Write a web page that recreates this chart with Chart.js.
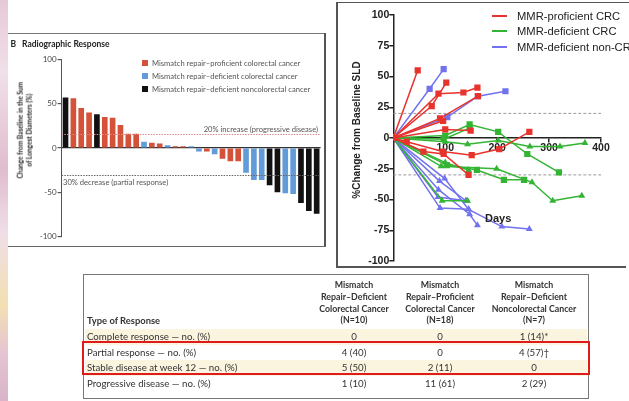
<!DOCTYPE html>
<html><head><meta charset="utf-8">
<script src="https://cdn.jsdelivr.net/npm/chart.js@4.4.1/dist/chart.umd.min.js"></script>
<style>
html,body{margin:0;padding:0;background:#fff;}
#page{position:relative;width:629px;height:401px;overflow:hidden;background:#fff;font-family:Lato,"Open Sans",sans-serif;color:#333;}
.a{position:absolute;white-space:nowrap;}
canvas{position:absolute;}
</style></head><body><div id="page">
<div class="a" style="left:0;top:0;width:8px;height:401px;background:linear-gradient(to bottom,#e6c9d7 0%,#f0e0e8 18%,#e0bccf 42%,#efdee7 58%,#f2e0b2 76%,#e6c4d3 88%,#d9b4c8 100%);"></div>
<canvas id="wf" width="317" height="213" style="left:8px;top:33px;width:317px;height:213px;"></canvas>
<canvas id="sp" width="292" height="270" style="left:337px;top:2px;width:292px;height:270px;"></canvas>
</div>
<script>
// ================= DATA =================
// Waterfall (Radiographic Response)
const wfValues = [57,56,45,40,38,35,34,26,16,16,7,6,5,3,2,2,2,-4,-4,-7,-12,-15,-15,-28,-36,-36,-42,-50,-51,-52,-62,-71,-74];
const wfGroups = ['n','p','p','p','n','p','p','p','p','p','d','p','p','d','p','p','d','d','p','d','p','p','p','d','d','d','n','n','d','d','n','n','n'];
const wfYTicks = [100,50,0,-50,-100];
const wfRefValues = [16,-31];
const wfRefLabels = ['20% increase (progressive disease)','30% decrease (partial response)'];
const wfLegendLabels = ['Mismatch repair–proficient colorectal cancer','Mismatch repair–deficient colorectal cancer','Mismatch repair–deficient noncolorectal cancer'];
const wfLegendGroups = ['p','d','n'];
const wfTitle = ['B','Radiographic Response'];
const wfYTitle = ['Change from Baseline in the Sum','of Longest Diameters (%)'];

// Spider plot (days, % change)
const spPmmrCrc = [
  [[0,0],[47,55]],
  [[0,0],[74,26],[102,45]],
  [[0,0],[87,36],[135,37],[162,41]],
  [[0,0],[90,16],[163,34]],
  [[0,0],[96,14]],
  [[0,0],[100,7],[149,6]],
  [[0,0],[26,-3],[95,-11],[151,-14],[204,-9],[262,5]],
  [[0,0],[58,-11],[97,-13],[145,-30]]
];
const spDmmrCrc = [
  [[0,0],[100,2],[147,11],[202,5],[258,-13],[319,-28]],
  [[0,0],[100,-3],[143,-5],[202,-2],[263,-7],[321,-7],[369,-4]],
  [[0,0],[97,-1],[147,8]],
  [[0,0],[103,-22],[161,-26],[213,-34],[252,-34]],
  [[0,0],[92,-23],[199,-25],[267,-36],[307,-51],[363,-47]],
  [[0,0],[94,-51],[143,-51]],
  [[0,0],[100,-20],[145,-26]]
];
const spDmmrNonCrc = [
  [[0,0],[70,40],[97,56]],
  [[0,0],[104,17],[163,34],[216,38]],
  [[0,0],[89,-35],[140,-51]],
  [[0,0],[99,-33],[145,-58],[209,-72],[262,-74]],
  [[0,0],[87,-42],[147,-62],[162,-71]],
  [[0,0],[86,-48],[140,-51]],
  [[0,0],[90,-57],[145,-58]]
];
const spYTicks = [100,75,50,25,0,-25,-50,-75,-100];
const spXTicks = [0,100,200,300,400];
const spRefValues = [20,-30];
const spLegendLabels = ['MMR-proficient CRC','MMR-deficient CRC','MMR-deficient non-CRC'];
const spYTitle = '%Change from Baseline SLD';
const spXTitle = 'Days';

// Table
const tblColHeaders = [
  ['Mismatch','Repair–Deficient','Colorectal Cancer','(N=10)'],
  ['Mismatch','Repair–Proficient','Colorectal Cancer','(N=18)'],
  ['Mismatch','Repair–Deficient','Noncolorectal Cancer','(N=7)']
];
const tblRowHeader = 'Type of Response';
const tblRowLabels = ['Complete response — no. (%)','Partial response — no. (%)','Stable disease at week 12 — no. (%)','Progressive disease — no. (%)'];
const tblCol1 = ['0','4 (40)','5 (50)','1 (10)'];
const tblCol2 = ['0','0','2 (11)','11 (61)'];
const tblCol3 = ['1 (14)*','4 (57)†','0','2 (29)'];

// ================= STYLES =================
const wfColors = {p:'#d4513a', d:'#619cd8', n:'#111111'};
const spColors = ['#e8322c','#33b533','#7272ee'];
const spPmmrMarkers = ['rect','rect','rect','rect','rect','rect','rect','rect'];
const spDmmrMarkers = ['rect','triangle','rect','rect','triangle','triangle','triangle'];
const spNonMarkers = ['rect','rect','triangle','triangle','triangle','triangle','triangle'];

const page = document.getElementById('page');
function el(html, css){ const d=document.createElement('div'); d.className='a'; d.innerHTML=html; Object.assign(d.style, css); page.appendChild(d); return d; }
function txt(s, x, cy, o){ o=o||{}; const lh=o.lh||10; const css={top:(cy-lh/2)+'px', lineHeight:lh+'px', fontSize:(o.size||8)+'px', fontWeight:o.bold?'700':'400', color:o.color||'#333'}; if(o.family) css.fontFamily=o.family;
  if(o.align==='right'){ css.right=(629-x)+'px'; css.textAlign='right'; } else if(o.align==='center'){ css.left=(x-100)+'px'; css.width='200px'; css.textAlign='center'; } else { css.left=x+'px'; }
  return el(s, css); }

// ================= WATERFALL =================
const wfRefPlugin = {
  id:'wfRef',
  afterDatasetsDraw(chart){
    const {ctx, chartArea:a, scales:{y}} = chart;
    const cols = ['#d98a8a','#666'];
    wfRefValues.forEach((v,i)=>{
      const py = Math.round(y.getPixelForValue(v))+0.5;
      ctx.save(); ctx.strokeStyle=cols[i]; ctx.lineWidth=1; ctx.setLineDash([1.5,1.2]);
      ctx.beginPath(); ctx.moveTo(a.left,py); ctx.lineTo(a.right,py); ctx.stroke(); ctx.restore();
    });
  }
};
new Chart(document.getElementById('wf'), {
  type:'bar',
  data:{ labels: wfValues.map((_,i)=>String(i+1)),
    datasets:[{ data: wfValues, backgroundColor: wfGroups.map(g=>wfColors[g]), borderWidth:0, barPercentage:0.72, categoryPercentage:1 }]},
  options:{
    responsive:false, animation:false, devicePixelRatio:1,
    layout:{padding:{left:0,right:4.4,top:26.3,bottom:9.3}},
    plugins:{legend:{display:false}, tooltip:{enabled:false}},
    scales:{
      x:{display:false},
      y:{min:-100,max:100,
        afterBuildTicks:s=>{ s.ticks = wfYTicks.map(v=>({value:v})); },
        ticks:{font:{family:'Lato',size:8}, color:'#444', padding:1, autoSkip:false},
        grid:{color:c=>c.tick && c.tick.value===0 ? '#333':'rgba(0,0,0,0)', lineWidth:1.2, tickColor:'#555', tickLength:4},
        border:{color:'#555', width:1},
        afterFit:s=>{ s.width=53.6; }
      }
    }
  },
  plugins:[wfRefPlugin]
});
// panel borders
el('',{left:'8px',top:'32.5px',width:'317px',height:'1.5px',background:'#777'});
el('',{left:'324px',top:'32.5px',width:'2px',height:'214px',background:'#555'});
el('',{left:'8px',top:'245.5px',width:'318px',height:'1.5px',background:'#666'});
// title
txt(wfTitle[0], 10.5, 44, {bold:true,size:8.5,color:'#222'});
txt(wfTitle[1], 22, 44, {bold:true,size:8.5,color:'#222'});
// legend
wfLegendGroups.forEach((g,i)=>{
  const cy = 63 + i*13;
  el('',{left:'141.5px',top:(cy-3)+'px',width:'6px',height:'6px',background:wfColors[g]});
  txt(wfLegendLabels[i], 152, cy, {size:7.6,color:'#555'});
});
// ref labels
txt(wfRefLabels[0], 318, 129, {size:7.6,color:'#555',align:'right'});
txt(wfRefLabels[1], 63, 181.7, {size:7.6,color:'#555'});
// y title (rotated)
el(wfYTitle.join('<br>'),{left:(25.4-60)+'px',top:(130-9.3)+'px',width:'120px',height:'18.6px',lineHeight:'9.3px',fontSize:'6.6px',fontWeight:'700',textAlign:'center',color:'#222',transform:'rotate(-90deg)'});

// ================= SPIDER =================
const spDatasets = [];
function addGroup(list, markers, color){
  list.forEach((pts,i)=>{
    spDatasets.push({ data: pts.map(p=>({x:p[0],y:p[1]})), showLine:true, borderColor:color, backgroundColor:color,
      borderWidth:1.5, pointStyle:markers[i], pointRadius: markers[i]==='rect'?4.4:4, pointBorderWidth:0, pointBackgroundColor:color, order:1 });
  });
}
addGroup(spPmmrCrc, spPmmrMarkers, spColors[0]);
addGroup(spDmmrCrc, spDmmrMarkers, spColors[1]);
addGroup(spDmmrNonCrc, spNonMarkers, spColors[2]);
spRefValues.forEach(v=>{
  spDatasets.push({ data:[{x:0,y:v},{x:400,y:v}], showLine:true, borderColor:'#9a9a9a', borderWidth:1, borderDash:[3,2], pointRadius:0, order:5 });
});
const spFont = {family:'"Liberation Sans", Arial, sans-serif', size:10.5, weight:'bold'};
new Chart(document.getElementById('sp'), {
  type:'scatter',
  data:{datasets: spDatasets},
  options:{
    responsive:false, animation:false, devicePixelRatio:1,
    layout:{padding:{left:0,right:28,top:13,bottom:11}},
    plugins:{legend:{display:false}, tooltip:{enabled:false}},
    scales:{
      x:{type:'linear', min:0, max:400, position:{y:0},
        afterBuildTicks:s=>{ s.ticks = spXTicks.map(v=>({value:v})); },
        ticks:{font:spFont, color:'#222', padding:0, autoSkip:false, maxRotation:0, callback:v=> v===0 ? '' : String(v)},
        grid:{drawOnChartArea:false, tickColor:'#222', tickLength:4, lineWidth:1.5},
        border:{color:'#222', width:1.5}
      },
      y:{min:-100, max:100,
        afterBuildTicks:s=>{ s.ticks = spYTicks.map(v=>({value:v})); },
        ticks:{font:spFont, color:'#222', padding:0, autoSkip:false},
        grid:{drawOnChartArea:false, tickColor:'#222', tickLength:4, lineWidth:1.5},
        border:{color:'#222', width:1.5},
        afterFit:s=>{ s.width=56.3; }
      }
    }
  }
});
// spider panel borders
el('',{left:'336px',top:'1.5px',width:'293px',height:'1.5px',background:'#555'});
el('',{left:'336px',top:'1.5px',width:'1.5px',height:'266px',background:'#555'});
el('',{left:'336px',top:'266px',width:'290px',height:'1.5px',background:'#555'});
// spider legend
spLegendLabels.forEach((s,i)=>{
  const cy = 15.7 + i*15.4;
  el('',{left:'492px',top:(cy-1)+'px',width:'15px',height:'2px',background:spColors[i]});
  txt(s, 517, cy, {size:11.2,color:'#222',family:'"Liberation Sans", Arial, sans-serif',lh:12});
});
txt(spXTitle, 485, 218, {size:11,bold:true,color:'#222',family:'"Liberation Sans", Arial, sans-serif',lh:12});
el(spYTitle,{left:(357-80)+'px',top:(130-6)+'px',width:'160px',height:'12px',lineHeight:'12px',fontSize:'10px',fontWeight:'700',textAlign:'center',color:'#222',fontFamily:'"Liberation Sans", Arial, sans-serif',transform:'rotate(-90deg)'});

// ================= TABLE =================
const colCenters = [354,440,534];
el('',{left:'84.5px',top:'328.5px',width:'502.5px',height:'16px',background:'#fbf4df'});
el('',{left:'84.5px',top:'359.5px',width:'502.5px',height:'16px',background:'#fbf4df'});
el('',{left:'83px',top:'274px',width:'505.5px',height:'124.5px',border:'1.5px solid #777',boxSizing:'border-box'});
tblColHeaders.forEach((lines,c)=>{
  el(lines.join('<br>'),{left:(colCenters[c]-60)+'px',top:(285-5.9)+'px',width:'120px',lineHeight:'11.8px',fontSize:'8.8px',fontWeight:'700',textAlign:'center',color:'#333'});
});
txt(tblRowHeader, 87, 321, {size:9.4,bold:true,color:'#333'});
const rowCenters = [336,351.7,367,383.3];
const cols = [tblCol1,tblCol2,tblCol3];
tblRowLabels.forEach((s,r)=>{
  txt(s, 87, rowCenters[r], {size:9.7,color:'#333'});
  cols.forEach((col,c)=> txt(col[r], colCenters[c], rowCenters[r], {size:9.7,color:'#333',align:'center'}));
});
el('',{left:'81.5px',top:'340.5px',width:'508.5px',height:'34.5px',border:'2.5px solid #e01b1b',boxSizing:'border-box'});
</script>
</body></html>
